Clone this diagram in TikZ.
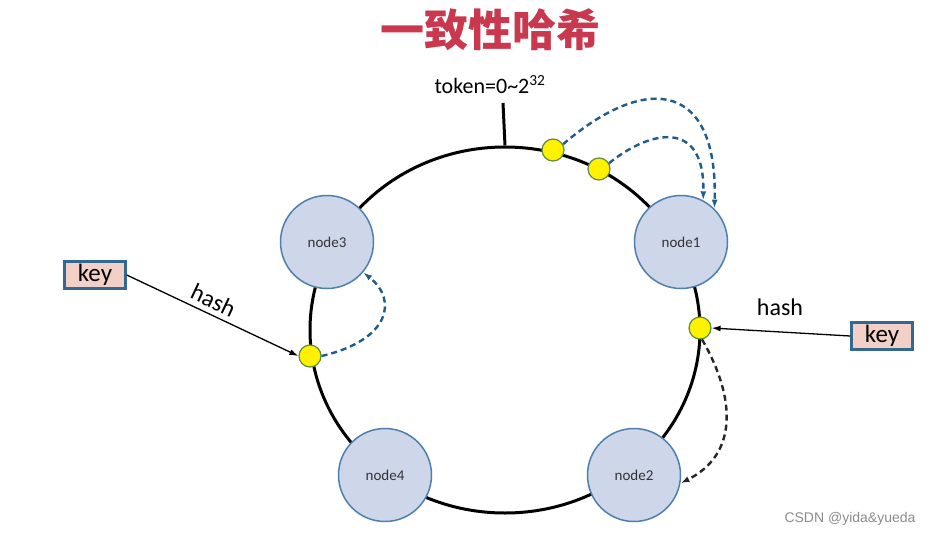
\documentclass[tikz,border=0pt]{standalone}
\usepackage{fontspec}
\setmainfont{Carlito}
\newfontfamily\cjkfont{Noto Sans CJK SC}
\newfontfamily\wmfont{Liberation Sans}
\usetikzlibrary{arrows.meta,shapes.geometric}
\definecolor{titlered}{RGB}{201,56,79}
\definecolor{nodefill}{RGB}{205,215,233}
\definecolor{nodeedge}{RGB}{79,127,174}
\definecolor{keyfill}{RGB}{242,207,199}
\definecolor{keyedge}{RGB}{52,104,145}
\definecolor{dotedge}{RGB}{95,139,63}
\definecolor{dashblue}{RGB}{31,92,139}
\tikzset{
  ringshape/.style={draw=black, line width=3pt, ellipse, minimum width=390pt, minimum height=366pt, inner sep=0pt},
  server/.style={circle, draw=nodeedge, line width=1.5pt, fill=nodefill, minimum size=93pt, inner sep=0pt, font=\fontsize{15}{18}\selectfont, text=black!80},
  keybox/.style={draw=keyedge, line width=2.5pt, fill=keyfill, minimum width=61pt, minimum height=27pt, inner sep=0pt, font=\fontsize{25}{28}\selectfont},
  ydot/.style={circle, draw=dotedge, line width=1.2pt, fill=yellow, minimum size=22pt, inner sep=0pt},
  hasharrow/.style={draw=black, line width=1.3pt, -{Latex[length=9pt,width=6pt]}},
  bluedash/.style={draw=dashblue, line width=2.4pt, dash pattern=on 6pt off 4pt, -{Latex[length=9pt,width=6pt]}},
  blackdash/.style={draw=black!85, line width=2.4pt, dash pattern=on 6pt off 4pt, -{Latex[length=9pt,width=6pt]}},
  lbl/.style={font=\fontsize{24}{28}\selectfont, inner sep=2pt}
}
\begin{document}
\begin{tikzpicture}[x=1pt,y=-1pt]
\useasboundingbox[fill=white] (0,0) rectangle (937,536);
% title
\node[font=\cjkfont\bfseries\fontsize{44}{48}\selectfont, text=titlered] (title) at (490,30) {一致性哈希};
% ring
\node[ringshape] (ring) at (505,330) {};
\coordinate (tokentop) at (503,103);
\draw[line width=3pt] (ring.north) -- (tokentop);
\node[font=\fontsize{22}{26}\selectfont, anchor=south] (token) at (490,97) {token=0\textasciitilde2\textsuperscript{32}};
% servers
\node[server] (n3) at (327,242) {node3};
\node[server] (n1) at (681,242) {node1};
\node[server] (n4) at (385,475) {node4};
\node[server] (n2) at (634,475) {node2};
% dots
\node[ydot] (d1) at (553,150) {};
\node[ydot] (d2) at (599,169) {};
\node[ydot] (d4) at (700,328) {};
\node[ydot] (d3) at (310,356) {};
% keys
\node[keybox] (k1) at (95,275) {key};
\node[keybox] (k2) at (882,336) {key};
% hash arrows
\draw[hasharrow] (k1.east) -- node[lbl, sloped, above=3pt, pos=0.47] {hash} (d3.west);
\draw[hasharrow] (k2.west) -- (d4.east);
\node[lbl] (hash2) at (780,307) {hash};
% dashed arrows
\draw[bluedash] (d1.30) .. controls (650,70) and (718,85) .. (n1.45);
\draw[bluedash] (d2.30) .. controls (650,130) and (705,118) .. (n1.62);
\draw[bluedash] (d3.east) .. controls (390,340) and (398,300) .. (n3.-40);
\draw[blackdash] (d4.-80) .. controls (737,400) and (737,455) .. (n2.-10);
% watermark
\node[font=\wmfont\fontsize{14}{16}\selectfont, text=black!45] (wm) at (850,519) {CSDN @yida\&yueda};
\end{tikzpicture}
\end{document}
